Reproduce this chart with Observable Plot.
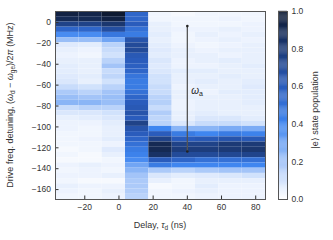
<!DOCTYPE html>
<html>
<head>
<meta charset="utf-8">
<script src="https://cdn.jsdelivr.net/npm/d3@7"></script>
<script src="https://cdn.jsdelivr.net/npm/@observablehq/plot@0.6"></script>
<style>
  html, body { margin: 0; padding: 0; background: #fff; }
  #wrap { position: relative; width: 333px; height: 240px; font-family: "Liberation Sans", Arial, sans-serif; }
  #wrap svg { position: absolute; left: 0; top: 0; }
</style>
</head>
<body>
<div id="wrap"></div>
<script>
// Delay column centres (ns)
const delays = [-30.3, -16.65, -3.0, 10.65, 24.3, 37.95, 51.6, 65.25, 78.9];
// Detuning row centres (MHz)
const detunings = [8, 3, -2, -7, -12, -17, -22, -27, -32, -37, -42, -47, -52, -57, -62, -67, -72, -77,
  -82, -87, -92, -97, -102, -107, -112, -117, -122, -127, -132, -137, -142, -147, -152, -157, -162, -167];

// |e> state population, one array per delay column (rows follow detunings)
const pop_m30 = [0.95, 0.9, 0.75, 0.55, 0.38, 0.22, 0.07, 0.05, 0.04, 0.05, 0.06, 0.06, 0.07, 0.08, 0.12, 0.18, 0.22, 0.25,
  0.12, 0.08, 0.05, 0.04, 0.04, 0.03, 0.03, 0.03, 0.02, 0.03, 0.02, 0.04, 0.03, 0.04, 0.03, 0.05, 0.04, 0.03];
const pop_m17 = [0.93, 0.9, 0.75, 0.55, 0.38, 0.22, 0.06, 0.04, 0.03, 0.05, 0.05, 0.05, 0.06, 0.05, 0.1, 0.15, 0.2, 0.25,
  0.15, 0.08, 0.06, 0.04, 0.03, 0.03, 0.04, 0.03, 0.03, 0.02, 0.02, 0.05, 0.04, 0.04, 0.02, 0.04, 0.03, 0.03];
const pop_m3 = [1.0, 0.95, 0.82, 0.68, 0.47, 0.3, 0.15, 0.12, 0.1, 0.15, 0.2, 0.12, 0.14, 0.1, 0.15, 0.2, 0.22, 0.22,
  0.15, 0.1, 0.08, 0.06, 0.05, 0.05, 0.06, 0.04, 0.07, 0.05, 0.03, 0.04, 0.03, 0.05, 0.02, 0.04, 0.05, 0.04];
const pop_11 = [0.55, 0.55, 0.6, 0.5, 0.45, 0.65, 0.7, 0.7, 0.62, 0.6, 0.58, 0.55, 0.48, 0.45, 0.45, 0.5, 0.55, 0.6,
  0.62, 0.65, 0.6, 0.75, 0.65, 0.6, 0.55, 0.5, 0.45, 0.42, 0.38, 0.3, 0.25, 0.2, 0.18, 0.18, 0.17, 0.15];
const pop_24 = [0.03, 0.03, 0.05, 0.05, 0.06, 0.05, 0.06, 0.07, 0.06, 0.08, 0.07, 0.08, 0.1, 0.1, 0.12, 0.12, 0.15, 0.16,
  0.12, 0.17, 0.14, 0.15, 0.4, 0.6, 0.75, 0.9, 0.9, 0.85, 0.6, 0.45, 0.18, 0.08, 0.05, 0.02, 0.03, 0.03];
const pop_38 = [0.02, 0.03, 0.03, 0.04, 0.03, 0.03, 0.04, 0.05, 0.05, 0.04, 0.04, 0.06, 0.05, 0.05, 0.04, 0.05, 0.05, 0.04,
  0.04, 0.05, 0.05, 0.08, 0.25, 0.45, 0.6, 0.75, 0.78, 0.7, 0.55, 0.4, 0.15, 0.06, 0.03, 0.03, 0.04, 0.03];
const pop_52 = [0.03, 0.03, 0.03, 0.04, 0.05, 0.04, 0.03, 0.04, 0.05, 0.05, 0.04, 0.06, 0.05, 0.06, 0.05, 0.04, 0.05, 0.05,
  0.05, 0.06, 0.08, 0.12, 0.25, 0.4, 0.62, 0.75, 0.78, 0.7, 0.5, 0.4, 0.18, 0.07, 0.05, 0.06, 0.05, 0.04];
const pop_65 = [0.03, 0.04, 0.03, 0.05, 0.04, 0.05, 0.04, 0.05, 0.04, 0.06, 0.05, 0.05, 0.06, 0.05, 0.05, 0.06, 0.05, 0.05,
  0.05, 0.05, 0.08, 0.12, 0.28, 0.45, 0.65, 0.8, 0.8, 0.72, 0.5, 0.4, 0.2, 0.08, 0.05, 0.04, 0.04, 0.04];
const pop_79 = [0.03, 0.03, 0.04, 0.04, 0.05, 0.04, 0.05, 0.05, 0.05, 0.05, 0.06, 0.05, 0.05, 0.06, 0.07, 0.06, 0.06, 0.06,
  0.05, 0.05, 0.06, 0.1, 0.28, 0.42, 0.62, 0.8, 0.82, 0.74, 0.5, 0.4, 0.2, 0.1, 0.05, 0.04, 0.04, 0.04];
const columns = [pop_m30, pop_m17, pop_m3, pop_11, pop_24, pop_38, pop_52, pop_65, pop_79];

// omega_a annotation (delay, detuning span)
const arrowDelay = 40;
const arrowSpan = [-3.5, -123.5];

const xTicks = [-20, 0, 20, 40, 60, 80];
const yTicks = [-160, -140, -120, -100, -80, -60, -40, -20, 0];
const cbTicks = [0, 0.2, 0.4, 0.6, 0.8, 1.0];

const colorDomain = [0, 0.2, 0.4, 0.6, 0.8, 1];
const colorRange = ["#ffffff", "#a3c4f8", "#3f86f0", "#2a5cbc", "#1c3a76", "#0e1a32"];

const dx = delays[1] - delays[0];
const dy = detunings[0] - detunings[1];
const cells = [];
columns.forEach((col, i) => col.forEach((v, j) => cells.push({
  x1: delays[i] - dx / 2, x2: delays[i] + dx / 2,
  y1: detunings[j] - dy / 2, y2: detunings[j] + dy / 2, v
})));

const W = 333, H = 240;
const ink = "#333";

const main = Plot.plot({
  width: W, height: H,
  marginLeft: 55, marginRight: 68, marginTop: 11, marginBottom: 41,
  style: { fontFamily: "Liberation Sans, Arial, sans-serif", fontSize: "8.5px", color: ink, background: "transparent" },
  x: { domain: [delays[0] - dx / 2, delays[delays.length - 1] + dx / 2] },
  y: { domain: [detunings[detunings.length - 1] - dy / 2, detunings[0] + dy / 2] },
  color: { type: "linear", domain: colorDomain, range: colorRange, clamp: true },
  marks: [
    Plot.rect(cells, { x1: "x1", x2: "x2", y1: "y1", y2: "y2", fill: "v" }),
    Plot.ruleX([arrowDelay], { y1: arrowSpan[0], y2: arrowSpan[1], stroke: "#555", strokeWidth: 1.3 }),
    Plot.dot([arrowSpan[0], arrowSpan[1]], { x: () => arrowDelay, y: d => d, r: 1.3, fill: "#222", stroke: null }),
    Plot.axisX(xTicks, { tickSize: -3.5, tickPadding: 8, label: null, stroke: ink, fill: ink }),
    Plot.axisY(yTicks, { tickSize: -3.5, tickPadding: 8, label: null, stroke: ink, fill: ink }),
    Plot.frame({ stroke: "#555", strokeWidth: 1 })
  ]
});

const stops = d3.range(0, 200).map(i => i / 200);
const cbar = Plot.plot({
  width: W, height: H,
  marginLeft: 278, marginRight: 46, marginTop: 11, marginBottom: 41,
  style: { fontFamily: "Liberation Sans, Arial, sans-serif", fontSize: "8.5px", color: ink, background: "transparent" },
  x: { domain: [0, 1], axis: null },
  y: { domain: [0, 1] },
  color: { type: "linear", domain: colorDomain, range: colorRange },
  marks: [
    Plot.rect(stops, { x1: 0, x2: 1, y1: d => d, y2: d => d + 1 / 200 + 0.001, fill: d => d + 0.0025 }),
    Plot.axisY(cbTicks, { anchor: "right", tickSize: 0, tickPadding: 4, tickFormat: d3.format(".1f"), label: null, fill: ink }),
    Plot.frame({ stroke: "#555", strokeWidth: 1 })
  ]
});

const wrap = document.getElementById("wrap");
wrap.appendChild(main);
wrap.appendChild(cbar);

// Axis labels with subscripts
const svg = d3.select(main);
const fam = "Liberation Sans, Arial, sans-serif";
const xl = svg.append("text").attr("x", 160).attr("y", 227.5).attr("text-anchor", "middle")
  .attr("font-family", fam).attr("font-size", 9).attr("fill", ink);
xl.append("tspan").text("Delay, ");
xl.append("tspan").attr("font-style", "italic").text("τ");
xl.append("tspan").attr("font-size", 6.5).attr("dy", 2).text("d");
xl.append("tspan").attr("dy", -2).text(" (ns)");

const yl = svg.append("text").attr("transform", "translate(13,105) rotate(-90)").attr("text-anchor", "middle")
  .attr("font-family", fam).attr("font-size", 9).attr("fill", ink);
yl.append("tspan").text("Drive freq. detuning, (");
yl.append("tspan").attr("font-style", "italic").text("ω");
yl.append("tspan").attr("font-size", 6.5).attr("dy", 2).text("d");
yl.append("tspan").attr("dy", -2).text(" − ");
yl.append("tspan").attr("font-style", "italic").text("ω");
yl.append("tspan").attr("font-size", 6.5).attr("dy", 2).text("ge");
yl.append("tspan").attr("dy", -2).text(")/2");
yl.append("tspan").attr("font-style", "italic").text("π");
yl.append("tspan").text(" (MHz)");

const al = svg.append("text").attr("x", 197).attr("y", 94)
  .attr("font-family", fam).attr("font-size", 10).attr("fill", "#222");
al.append("tspan").attr("font-style", "italic").text("ω");
al.append("tspan").attr("font-size", 7).attr("dy", 2).text("a");

const cb = d3.select(cbar);
cb.append("text").attr("transform", "translate(318,110) rotate(-90)").attr("text-anchor", "middle")
  .attr("font-family", fam).attr("font-size", 9).attr("fill", ink).text("|e⟩ state population");
</script>
</body>
</html>
